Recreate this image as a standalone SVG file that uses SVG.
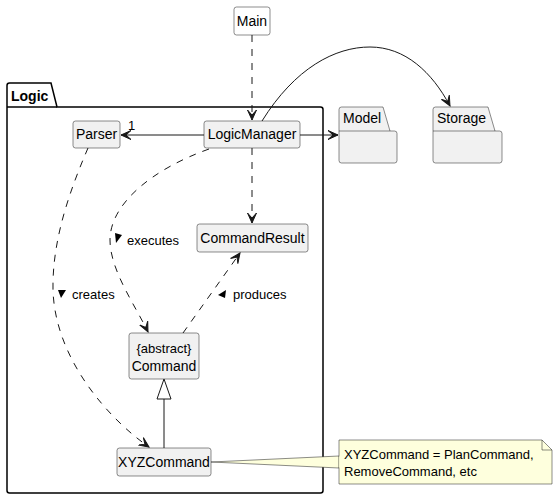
<svg xmlns="http://www.w3.org/2000/svg" width="557" height="499" viewBox="0 0 557 499">
<style>
.cls{fill:#F1F1F1;stroke:#181818;stroke-width:0.5}
.pkg{fill:#F1F1F1;stroke:#181818;stroke-width:0.5}
.t{font-family:"Liberation Sans",Arial,sans-serif;font-size:14px;fill:#000}
.lbl{font-family:"Liberation Sans",Arial,sans-serif;font-size:13px;fill:#000}
.e{fill:none;stroke:#181818;stroke-width:1}
.d{stroke-dasharray:7,7}
</style>
<defs>
<marker id="ah" viewBox="-10 -6 12 12" refX="0" refY="0" markerWidth="12" markerHeight="12" markerUnits="userSpaceOnUse" orient="auto">
<path d="M0,0 L-10,-4.5 L-5,0 L-10,4.5 Z" fill="#181818" stroke="#181818" stroke-width="1"/>
</marker>
</defs>
<rect width="557" height="499" fill="#FFFFFF"/>

<g id="Logic">
<path d="M9.5,83 L51,83 L57,107 L320.5,107 Q323,107 323,109.5 L323,490.5 Q323,493 320.5,493 L9.5,493 Q7,493 7,490.5 L7,85.5 Q7,83 9.5,83 Z" fill="#FFFFFF" stroke="#000" stroke-width="1.5"/>
<line x1="7" y1="107" x2="57" y2="107" stroke="#000" stroke-width="1.5"/>
<text x="11" y="101" class="t" font-weight="bold">Logic</text>
</g>

<g id="Model">
<path class="pkg" d="M341.5,107 L383,107 L390,131 L394.5,131 Q397,131 397,133.5 L397,160.5 Q397,163 394.5,163 L341.5,163 Q339,163 339,160.5 L339,109.5 Q339,107 341.5,107 Z"/>
<line x1="339" y1="131" x2="390" y2="131" stroke="#181818" stroke-width="0.5"/>
<text x="343" y="123" class="t">Model</text>
</g>

<g id="Storage">
<path class="pkg" d="M435.5,107 L488,107 L495,131 L499.5,131 Q502,131 502,133.5 L502,160.5 Q502,163 499.5,163 L435.5,163 Q433,163 433,160.5 L433,109.5 Q433,107 435.5,107 Z"/>
<line x1="433" y1="131" x2="495" y2="131" stroke="#181818" stroke-width="0.5"/>
<text x="437" y="123" class="t">Storage</text>
</g>

<g id="Main">
<rect x="234" y="7" width="36" height="28" rx="2.5" fill="#FFFFFF" stroke="#181818" stroke-width="0.5"/>
<text x="252" y="26" class="t" text-anchor="middle">Main</text>
</g>

<g id="Parser">
<rect class="cls" x="73" y="121" width="47" height="27" rx="2.5"/>
<text x="96.5" y="139" class="t" text-anchor="middle">Parser</text>
</g>

<g id="LogicManager">
<rect class="cls" x="204" y="121" width="96" height="27" rx="2.5"/>
<text x="252" y="139" class="t" text-anchor="middle">LogicManager</text>
</g>

<g id="CommandResult">
<rect class="cls" x="197" y="224" width="111" height="28" rx="2.5"/>
<text x="252.5" y="243" class="t" text-anchor="middle">CommandResult</text>
</g>

<g id="Command">
<rect class="cls" x="129" y="333" width="70" height="46" rx="2.5"/>
<text x="164" y="353" class="lbl" text-anchor="middle">{abstract}</text>
<text x="164" y="371" class="t" text-anchor="middle">Command</text>
</g>

<g id="XYZCommand">
<rect class="cls" x="117" y="448" width="94" height="28" rx="2.5"/>
<text x="164" y="467" class="t" text-anchor="middle">XYZCommand</text>
</g>

<g id="Note">
<path d="M211,462 L339,456 L339,468 Z" fill="#FEFFDD" stroke="#181818" stroke-width="0.5"/>
<path d="M339,440 L542,440 L552,450 L552,484 L339,484 Z" fill="#FEFFDD" stroke="#181818" stroke-width="0.5"/>
<path d="M542,440 L542,450 L552,450" fill="none" stroke="#181818" stroke-width="0.5"/>
<line x1="339.3" y1="456.5" x2="339.3" y2="467.5" stroke="#FEFFDD" stroke-width="1"/>
<text x="344" y="459" class="lbl">XYZCommand = PlanCommand,</text>
<text x="344" y="476" class="lbl">RemoveCommand, etc</text>
</g>

<g id="connectors">
<path class="e d" d="M252,35 L252,120" marker-end="url(#ah)"/>
<path class="e" d="M204,135 L121,135" marker-end="url(#ah)"/>
<text x="128" y="130" class="lbl">1</text>
<path class="e" d="M300,135 L338,135" marker-end="url(#ah)"/>
<path class="e" d="M262,121 C295,68 335,47 370,47 C405,47 432,72 450,106" marker-end="url(#ah)"/>
<path class="e d" d="M252,148 L252,223" marker-end="url(#ah)"/>
<path class="e d" d="M209,149 C150,170 110,205 110,240 C110,270 135,305 148,332" marker-end="url(#ah)"/>
<polygon points="115,233 122,235 116,243" fill="#000"/>
<text x="127" y="245" class="lbl">executes</text>
<path class="e d" d="M88,148 C70,190 52,240 53,290 C55,360 110,420 149,447" marker-end="url(#ah)"/>
<polygon points="58,290 66,290 61,298" fill="#000"/>
<text x="72" y="299" class="lbl">creates</text>
<path class="e d" d="M183,333 L240,253" marker-end="url(#ah)"/>
<polygon points="226,290 218,295 225,298" fill="#000"/>
<text x="233" y="299" class="lbl">produces</text>
<path class="e" d="M164,448 L164,399"/>
<polygon points="164,379 157,399 171,399" fill="#FFFFFF" stroke="#181818" stroke-width="1"/>
</g>
</svg>
